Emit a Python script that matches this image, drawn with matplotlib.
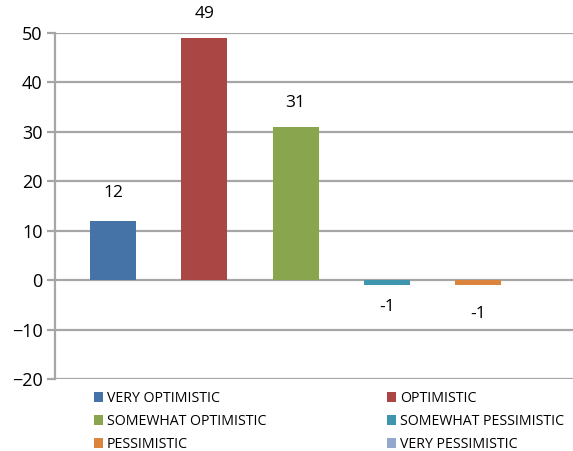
import matplotlib
matplotlib.use("Agg")
import matplotlib.pyplot as plt
from matplotlib.patches import Patch
import numpy as np

categories = ["VERY OPTIMISTIC", "OPTIMISTIC", "SOMEWHAT OPTIMISTIC",
              "SOMEWHAT PESSIMISTIC", "PESSIMISTIC", "VERY PESSIMISTIC"]
values = [12, 49, 31, -1, -1, np.nan]
colors = ["#4572A7", "#AA4643", "#89A54E", "#3D96AE", "#DB843D", "#92A8CD"]
label_offsets = [20, 17, 17, -16, -21, 0]  # points from each bar end
yticks = [-20, -10, 0, 10, 20, 30, 40, 50]

plt.rcParams["font.family"] = ["Open Sans", "DejaVu Sans"]

fig = plt.figure(figsize=(5.73, 4.51), dpi=100)
ax = fig.add_axes([55 / 573, 1 - 379 / 451, 1 - 55 / 573, (379 - 33) / 451])

x = np.arange(len(categories))
ax.bar(x, values, width=0.505, color=colors, zorder=3)

for xi, v, off in zip(x, values, label_offsets):
    if np.isnan(v):
        continue
    ax.annotate(f"{v:g}", (xi, v), xytext=(0, off),
                textcoords="offset points", ha="center", va="center",
                fontsize=12.5, color="#000000")

ax.set_ylim(-20, 50)
ax.set_xlim(-0.636, 5.04)
ax.set_yticks(yticks)
ax.set_xticks([])
ax.yaxis.grid(True, color="#a6a6a6", linewidth=1.6, zorder=0)
ax.set_axisbelow(True)
for s in ["top", "right", "bottom"]:
    ax.spines[s].set_visible(False)
ax.spines["left"].set_color("#a6a6a6")
ax.spines["left"].set_linewidth(1.6)
ax.tick_params(axis="y", length=6, width=1.6, color="#a6a6a6",
               labelsize=13, labelcolor="#000000", pad=3)

# legend fills row by row: reorder for matplotlib's column-major layout
order = [0, 2, 4, 1, 3, 5]
handles = [Patch(facecolor=colors[i], edgecolor="none") for i in order]
labels = [categories[i] for i in order]
fig.legend(handles, labels, ncol=2, loc="upper left",
           bbox_to_anchor=(94 / 573, 1 - 391 / 451), frameon=False,
           fontsize=10.2, handlelength=0.65, handleheight=0.65,
           handletextpad=0.25, columnspacing=8.55, labelspacing=0.56,
           borderpad=0, borderaxespad=0)

fig.savefig("out.png", dpi=100)
